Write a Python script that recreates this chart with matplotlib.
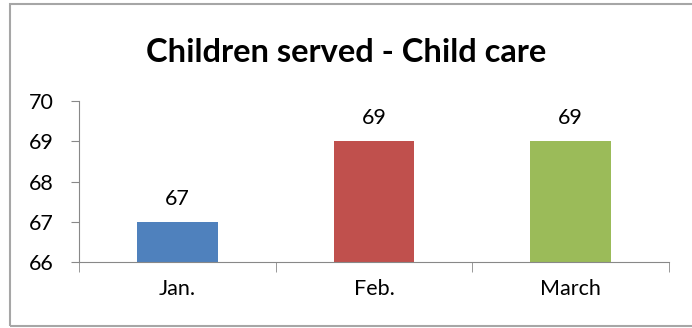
import numpy as np
import matplotlib.pyplot as plt
from matplotlib.patches import Rectangle

# Chart data
categories = ['Jan.', 'Feb.', 'March']
values = [67, 69, 69]
colors = ['#4F81BD', '#C0504D', '#9BBB59']
y_ticks = [66, 67, 68, 69, 70]

plt.rcParams['font.family'] = ['Lato', 'DejaVu Sans']

fig = plt.figure(figsize=(6.92, 3.28), dpi=100)
ax = fig.add_axes([0.114, 0.201, 0.853, 0.491])

x = np.arange(len(categories))
ax.bar(x, values, width=0.41, color=colors, bottom=0)
ax.set_ylim(66, 70)
ax.set_xlim(-0.5, len(categories) - 0.5)

# Value labels above bars
for xi, v in zip(x, values):
    ax.text(xi, v + 0.33, str(v), ha='center', va='bottom', fontsize=15.5)

ax.set_yticks(y_ticks)
ax.set_yticklabels([str(t) for t in y_ticks], fontsize=15.5)
ax.set_xticks(x)
ax.set_xticklabels(categories, fontsize=15.5)
ax.tick_params(axis='x', length=0, pad=12)
ax.tick_params(axis='y', length=6, color='#888888', pad=12)

# tick marks between categories
ax.set_xticks(np.arange(-0.5, len(categories)), minor=True)
ax.tick_params(axis='x', which='minor', length=7, color='#888888')

for s in ['top', 'right']:
    ax.spines[s].set_visible(False)
for s in ['left', 'bottom']:
    ax.spines[s].set_color('#888888')

fig.text(0.5, 0.841, 'Children served - Child care', ha='center', va='center',
         fontsize=23.5, fontweight='bold')

# outer chart border (right edge runs off the image)
fig.patches.append(Rectangle((0.0145, 0.007), 1.0, 0.981, transform=fig.transFigure,
                             fill=False, edgecolor='#A6A6A6', linewidth=1.5))

fig.savefig('out.png', dpi=100)
